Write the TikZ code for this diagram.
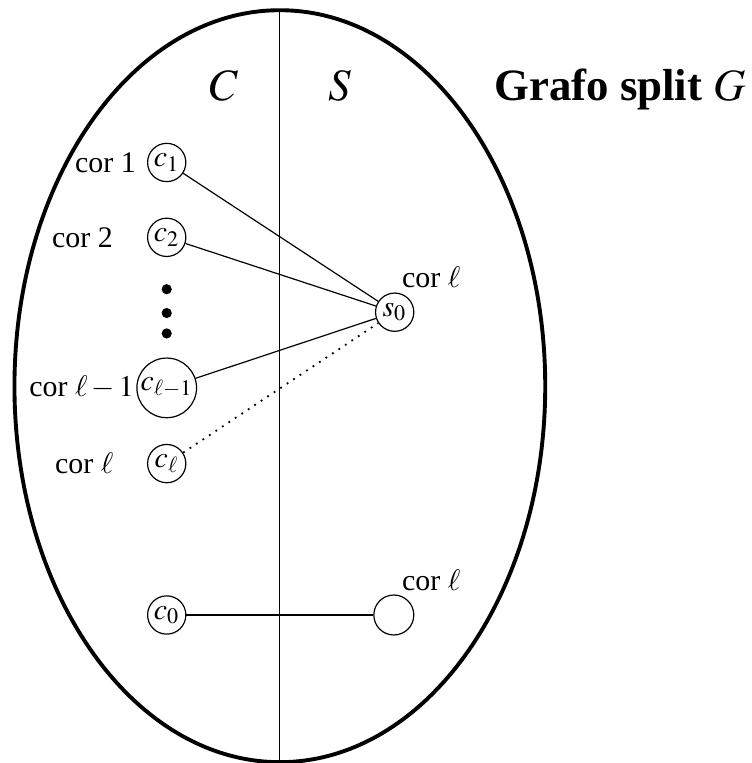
\documentclass[tikz,border=0pt]{standalone}
\usepackage{mathptmx}
\usepackage[no-math]{fontspec}
\setmainfont{Liberation Serif}
\usepackage{tikz}
\usetikzlibrary{positioning}

\begin{document}
\begin{tikzpicture}[
    vertex/.style={circle, draw, line width=0.4pt, inner sep=0.5pt, minimum size=0.45cm, font=\normalsize},
    corlabel/.style={font=\normalsize, inner sep=0pt},
    part/.style={font=\fontsize{15}{18}\selectfont, anchor=base},
    link/.style={line width=0.4pt},
    dotlink/.style={dotted, semithick}
]
\useasboundingbox (-3.29,-4.43) rectangle (5.55,4.54);

% the split graph and its two sides
\draw[line width=1.3pt] (0,0) ellipse [x radius=3.12cm, y radius=4.42cm];
\draw[line width=0.4pt] (0,4.42) -- (0,-4.45);
\node[part] (cside) at (-0.65,3.36) {$C$};
\node[part] (sside) at (0.71,3.36) {$S$};
\node[part, font=\fontsize{15}{18}\selectfont\bfseries] (title) at (4.0,3.36) {Grafo split $G$};

% clique C
\node[vertex] (c1) at (-1.33,2.63) {$c_1$};
\node[vertex] (c2) at (-1.33,1.75) {$c_2$};
\foreach \y [count=\i] in {1.14,0.86,0.62}
    \fill (-1.33,\y) circle [radius=0.06cm] coordinate (dot\i);
\node[vertex] (cl1) at (-1.33,-0.02) {$c_{\ell-1}$};
\node[vertex] (cl) at (-1.33,-0.91) {$c_\ell$};
\node[vertex] (c0) at (-1.33,-2.69) {$c_0$};

% independent set S
\node[vertex] (s0) at (1.35,0.87) {$s_0$};
\node[vertex, minimum size=0.47cm] (sx) at (1.34,-2.69) {};

% colours
\node[corlabel] (cor1) at (-2.05,2.63) {cor 1};
\node[corlabel] (cor2) at (-2.32,1.75) {cor 2};
\node[corlabel] (corl1) at (-2.33,-0.02) {cor $\ell-1$};
\node[corlabel] (corl) at (-2.30,-0.91) {cor $\ell$};
\node[corlabel] (cors0) at (1.78,1.28) {cor $\ell$};
\node[corlabel] (corsx) at (1.78,-2.28) {cor $\ell$};

% edges
\draw[link] (c1) -- (s0);
\draw[link] (c2) -- (s0);
\draw[link] (cl1) -- (s0);
\draw[dotlink] (cl) -- (s0);
\draw[link] (c0) -- (sx);

\end{tikzpicture}
\end{document}
